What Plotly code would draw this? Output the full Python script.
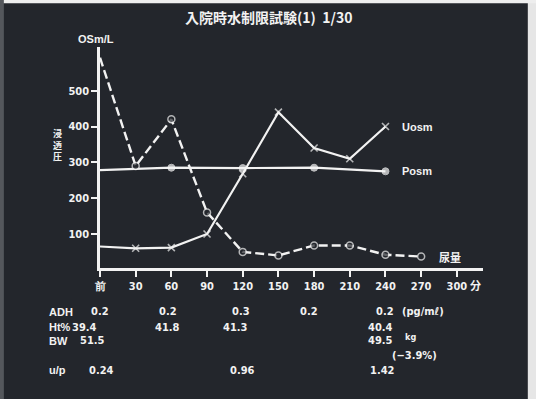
import plotly.graph_objects as go

# ---------------- data ----------------
time_ticks = [0, 30, 60, 90, 120, 150, 180, 210, 240, 270, 300]
time_labels = ["前", "30", "60", "90", "120", "150", "180", "210", "240", "270", "300"]

uosm_t = [0, 30, 60, 90, 120, 150, 180, 210, 240]
uosm = [65, 60, 62, 100, 268, 440, 340, 310, 400]

posm_t = [0, 60, 120, 180, 240]
posm = [278, 285, 284, 285, 275]

urine_t = [0, 30, 60, 90, 120, 150, 180, 210, 240, 270]
urine = [592, 290, 420, 160, 50, 40, 68, 68, 42, 37]

adh_t = [0, 60, 120, 180, 240]
adh = [0.2, 0.2, 0.3, 0.2, 0.2]
ht_t = [0, 60, 120, 240]
ht = [39.4, 41.8, 41.3, 40.4]
bw_t = [0, 240]
bw = [51.5, 49.5]
bw_change = -3.9
up_t = [0, 120, 240]
up = [0.24, 0.96, 1.42]

y_ticks = [100, 200, 300, 400, 500]

# ---------------- style ----------------
BG = "#23262c"
FG = "#f2f2f2"
NARROW = "Liberation Sans Narrow, DejaVu Sans Condensed, Roboto Condensed, Liberation Sans, sans-serif"
SANS = "Liberation Sans, Arial, sans-serif"
CJK = "Noto Sans CJK JP, sans-serif"

fig = go.Figure()

fig.add_trace(go.Scatter(
    x=uosm_t, y=uosm, mode="lines+markers",
    line=dict(color=FG, width=2.2),
    marker=dict(symbol="x-thin-open", size=[0] + [7] * (len(uosm) - 1),
                line=dict(color=FG, width=1.6), color=FG),
    showlegend=False, hoverinfo="skip"))

fig.add_trace(go.Scatter(
    x=posm_t, y=posm, mode="lines+markers",
    line=dict(color=FG, width=2.2),
    marker=dict(symbol="circle", size=[0] + [7] * (len(posm) - 1), color=FG),
    showlegend=False, hoverinfo="skip"))

fig.add_trace(go.Scatter(
    x=urine_t, y=urine, mode="lines+markers",
    line=dict(color=FG, width=2.4, dash="9px,4px"),
    marker=dict(symbol="circle", size=[0] + [7] * (len(urine) - 1), color=BG,
                line=dict(color=FG, width=1.5)),
    showlegend=False, hoverinfo="skip"))

ann = []
# series labels
ann.append(dict(x=uosm_t[-1], y=uosm[-1], xref="x", yref="y", text="<b>Uosm</b>",
                xanchor="left", yanchor="middle", xshift=15, showarrow=False,
                font=dict(family=SANS, size=11, color=FG)))
ann.append(dict(x=posm_t[-1], y=posm[-1], xref="x", yref="y", text="<b>Posm</b>",
                xanchor="left", yanchor="middle", xshift=15, showarrow=False,
                font=dict(family=SANS, size=11, color=FG)))
ann.append(dict(x=urine_t[-1], y=urine[-1], xref="x", yref="y", text="<b>尿量</b>",
                xanchor="left", yanchor="middle", xshift=16, showarrow=False,
                font=dict(family=CJK, size=11, color=FG)))

# title & axis annotations
ann.append(dict(x=0.44, y=1.136, xref="paper", yref="paper", text="<b>入院時水制限試験(1)  1/30</b>",
                xanchor="center", yanchor="middle", showarrow=False,
                font=dict(family=CJK, size=14, color=FG)))
ann.append(dict(x=-0.01, y=1.035, xref="paper", yref="paper", text="<b>OSm/L</b>",
                xanchor="center", yanchor="middle", showarrow=False,
                font=dict(family=SANS, size=11, color=FG)))
ann.append(dict(x=-0.112, y=0.555, xref="paper", yref="paper", text="<b>浸<br>透<br>圧</b>",
                xanchor="center", yanchor="middle", align="center", showarrow=False,
                font=dict(family=CJK, size=9, color=FG)))
ann.append(dict(x=0.98, y=-0.077, xref="paper", yref="paper", text="<b>分</b>",
                xanchor="center", yanchor="middle", showarrow=False,
                font=dict(family=CJK, size=11, color=FG)))

# table below the chart
rows = [
    ("ADH", -0.199, adh_t, ["%.1f" % v for v in adh], [0, -3, -2, -5, 0]),
    ("Ht%", -0.267, ht_t, ["%.1f" % v for v in ht], [-16, -4, -7, -5]),
    ("BW", -0.330, bw_t, ["%.1f" % v for v in bw], [-8, -5]),
    ("u/p", -0.462, up_t, ["%.2f" % v for v in up], [1, 0, -3]),
]
for label, yy, ts, vals, shifts in rows:
    ann.append(dict(x=-0.138, y=yy, xref="paper", yref="paper", text="<b>%s</b>" % label,
                    xanchor="left", yanchor="middle", showarrow=False,
                    font=dict(family=SANS, size=11, color=FG)))
    for t, v, s in zip(ts, vals, shifts):
        ann.append(dict(x=t, y=yy, xref="x", yref="paper", text="<b>%s</b>" % v,
                        xanchor="center", yanchor="middle", xshift=s, showarrow=False,
                        font=dict(family=NARROW, size=11, color=FG)))

ann.append(dict(x=adh_t[-1], y=-0.199, xref="x", yref="paper", text="<b>(pg/mℓ)</b>",
                xanchor="left", yanchor="middle", xshift=15, showarrow=False,
                font=dict(family=NARROW, size=11, color=FG)))
ann.append(dict(x=bw_t[-1], y=-0.312, xref="x", yref="paper", text="<b>kg</b>",
                xanchor="left", yanchor="middle", xshift=18, showarrow=False,
                font=dict(family=NARROW, size=9, color=FG)))
ann.append(dict(x=bw_t[-1], y=-0.398, xref="x", yref="paper", text="<b>(−%.1f%%)</b>" % abs(bw_change),
                xanchor="left", yanchor="middle", xshift=5, showarrow=False,
                font=dict(family=NARROW, size=11, color=FG)))

# slide edges (photo frame)
shapes = [
    dict(type="rect", xref="paper", yref="paper", x0=1.117, x1=1.16, y0=-0.7, y1=1.3,
         fillcolor="#e6e6e6", line=dict(width=0), layer="below"),
    dict(type="rect", xref="paper", yref="paper", x0=-0.3, x1=1.2, y0=1.198, y1=1.3,
         fillcolor="#eeeeee", line=dict(width=0), layer="below"),
    dict(type="rect", xref="paper", yref="paper", x0=-0.3, x1=-0.251, y0=-0.7, y1=1.3,
         fillcolor="#54575c", line=dict(width=0), layer="below"),
]

fig.update_layout(
    width=536, height=399,
    margin=dict(l=100, r=53, t=47, b=131, pad=0),
    paper_bgcolor=BG, plot_bgcolor=BG,
    annotations=ann, shapes=shapes,
    xaxis=dict(range=[0, 322], tickmode="array", tickvals=time_ticks, ticktext=time_labels,
               showline=True, linecolor=FG, linewidth=2.5, ticks="outside", ticklen=6,
               tickwidth=2, tickcolor=FG, showgrid=False, zeroline=False,
               tickfont=dict(family=NARROW, size=11, color=FG, weight="bold")),
    yaxis=dict(range=[5, 622], tickmode="array", tickvals=y_ticks,
               showline=True, linecolor=FG, linewidth=2.5, ticks="outside", ticklen=6,
               tickwidth=2, tickcolor=FG, showgrid=False, zeroline=False,
               tickfont=dict(family=NARROW, size=11, color=FG, weight="bold")),
)

fig.write_html("out.html", config={"displayModeBar": False},
               post_script="document.body.style.margin='0';document.body.style.overflow='hidden';")
